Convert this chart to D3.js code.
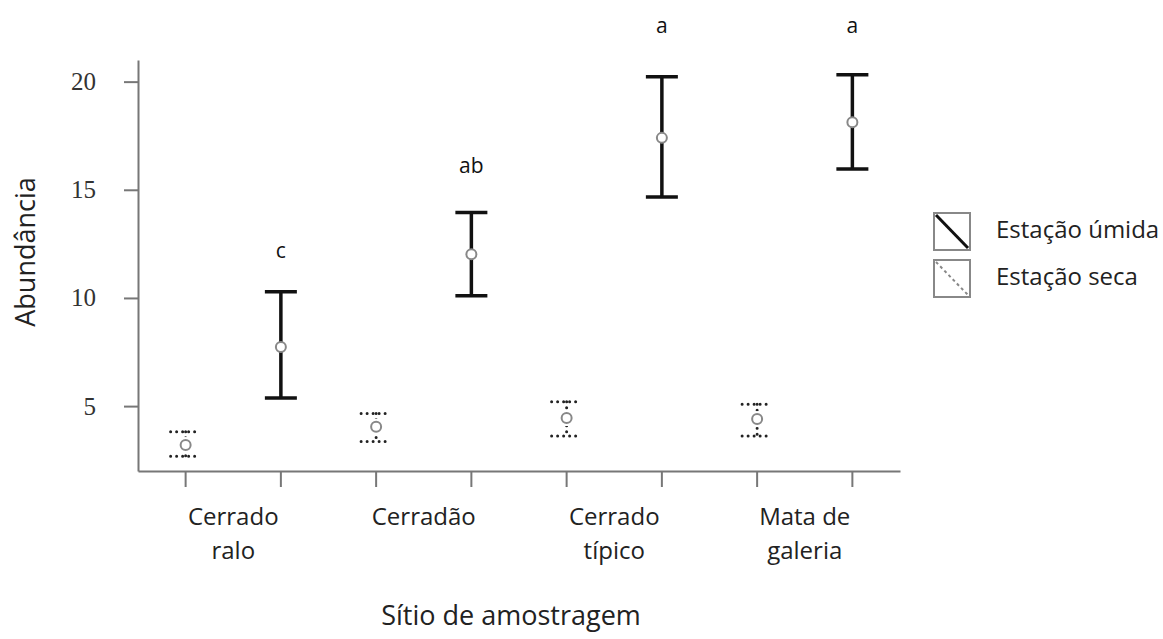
<!DOCTYPE html>
<html>
<head>
<meta charset="utf-8">
<script src="https://d3js.org/d3.v7.min.js"></script>
<style>
  html, body { margin: 0; padding: 0; background: #fff; }
  svg { display: block; font-family: 'Open Sans', sans-serif; }
</style>
</head>
<body>
<svg id="chart" width="1163" height="639"></svg>
<script>
// --- data ---
const sites = ["Cerrado ralo", "Cerradão", "Cerrado típico", "Mata de galeria"];
const siteLines = [["Cerrado", "ralo"], ["Cerradão"], ["Cerrado", "típico"], ["Mata de", "galeria"]];
const seasons = ["seca", "umida"];

const wetMean  = [7.73, 12.02, 17.40, 18.12];
const wetUpper = [10.29, 13.95, 20.22, 20.32];
const wetLower = [5.38, 10.10, 14.67, 15.96];

const dryMean  = [3.20, 4.05, 4.45, 4.40];
const dryUpper = [3.82, 4.66, 5.20, 5.08];
const dryLower = [2.68, 3.36, 3.62, 3.62];

// significance letters and the abundance level they sit at
const letters = ["c", "ab", "a", "a"];
const letterLevel = [12.2, 16.1, 22.6, 22.6];
const yTicks = [5, 10, 15, 20];

// --- layout ---
const svg = d3.select("#chart");
const xLeft = 138, xRight = 900, yTop = 60, yBottom = 471;

const slots = [];
sites.forEach(s => seasons.forEach(se => slots.push(s + "|" + se)));

const x = d3.scaleBand().domain(slots).range([xLeft, xRight]);
const cx = k => x(k) + x.bandwidth() / 2;
const y = d3.scaleLinear().domain([2, 21]).range([yBottom, yTop]);

const axisColor = "#777";

// y axis
const gy = svg.append("g").attr("transform", `translate(${xLeft},0)`)
  .call(d3.axisLeft(y).tickValues(yTicks).tickSize(14).tickPadding(28).tickSizeOuter(0));
gy.select(".domain").attr("stroke", axisColor).attr("stroke-width", 2);
gy.selectAll(".tick line").attr("stroke", axisColor).attr("stroke-width", 2);
gy.selectAll(".tick text").attr("font-family", "'Liberation Serif', serif")
  .attr("font-size", 25).attr("fill", "#333");

// x axis
const gx = svg.append("g").attr("transform", `translate(0,${yBottom})`)
  .call(d3.axisBottom(x).tickSize(16).tickFormat("").tickSizeOuter(0));
gx.select(".domain").attr("stroke", axisColor).attr("stroke-width", 2);
gx.selectAll(".tick line").attr("stroke", axisColor).attr("stroke-width", 2);

// category labels
sites.forEach((s, i) => {
  const mid = (cx(s + "|seca") + cx(s + "|umida")) / 2;
  const t = svg.append("text").attr("x", mid).attr("y", 525)
    .attr("text-anchor", "middle").attr("font-size", 24).attr("fill", "#222");
  siteLines[i].forEach((ln, j) => {
    t.append("tspan").attr("x", mid).attr("dy", j === 0 ? 0 : 34).text(ln);
  });
});

// axis titles
svg.append("text").attr("x", 511).attr("y", 625).attr("text-anchor", "middle")
  .attr("font-size", 27).attr("fill", "#222").text("Sítio de amostragem");
svg.append("text").attr("transform", "translate(35,252) rotate(-90)")
  .attr("text-anchor", "middle").attr("font-size", 27).attr("fill", "#222").text("Abundância");

// error bars
function drawBar(key, lo, hi, mean, wet) {
  const g = svg.append("g");
  const px = cx(key);
  const hw = wet ? 16 : 15;
  const style = sel => wet
    ? sel.attr("stroke", "#111").attr("stroke-width", 3.5)
    : sel.attr("stroke", "#222").attr("stroke-width", 3).attr("stroke-linecap", "round").attr("stroke-dasharray", "0 6");
  style(g.append("line").attr("x1", px).attr("x2", px).attr("y1", y(hi)).attr("y2", y(lo)));
  style(g.append("line").attr("x1", px - hw).attr("x2", px + hw).attr("y1", y(hi)).attr("y2", y(hi)));
  style(g.append("line").attr("x1", px - hw).attr("x2", px + hw).attr("y1", y(lo)).attr("y2", y(lo)));
  if (!wet) {
    // clear the stem near the mean so only a few dots show, like the original
    g.append("rect").attr("x", px - 4).attr("y", y(mean) - 8).attr("width", 8).attr("height", 16).attr("fill", "#fff");
  }
  g.append("circle").attr("cx", px).attr("cy", y(mean)).attr("r", 5)
    .attr("fill", "#fff").attr("stroke", "#888").attr("stroke-width", 2);
}

sites.forEach((s, i) => {
  drawBar(s + "|seca", dryLower[i], dryUpper[i], dryMean[i], false);
  drawBar(s + "|umida", wetLower[i], wetUpper[i], wetMean[i], true);
  svg.append("text").attr("x", cx(s + "|umida")).attr("y", y(letterLevel[i])).attr("dy", "0.35em")
    .attr("text-anchor", "middle").attr("font-size", 21).attr("fill", "#111").text(letters[i]);
});

// legend
const legend = [
  { label: "Estação úmida", wet: true, y: 213 },
  { label: "Estação seca", wet: false, y: 260 }
];
legend.forEach(d => {
  const g = svg.append("g").attr("transform", `translate(934,${d.y})`);
  g.append("rect").attr("width", 36).attr("height", 37).attr("fill", "#fff")
    .attr("stroke", "#888").attr("stroke-width", 2);
  const ln = g.append("line").attr("x1", 2).attr("y1", 2).attr("x2", 34).attr("y2", 35);
  if (d.wet) ln.attr("stroke", "#111").attr("stroke-width", 3);
  else ln.attr("stroke", "#888").attr("stroke-width", 2).attr("stroke-dasharray", "3 3");
  g.append("text").attr("x", 62).attr("y", 17).attr("dy", "0.35em")
    .attr("font-size", 24).attr("fill", "#222").text(d.label);
});
</script>
</body>
</html>
